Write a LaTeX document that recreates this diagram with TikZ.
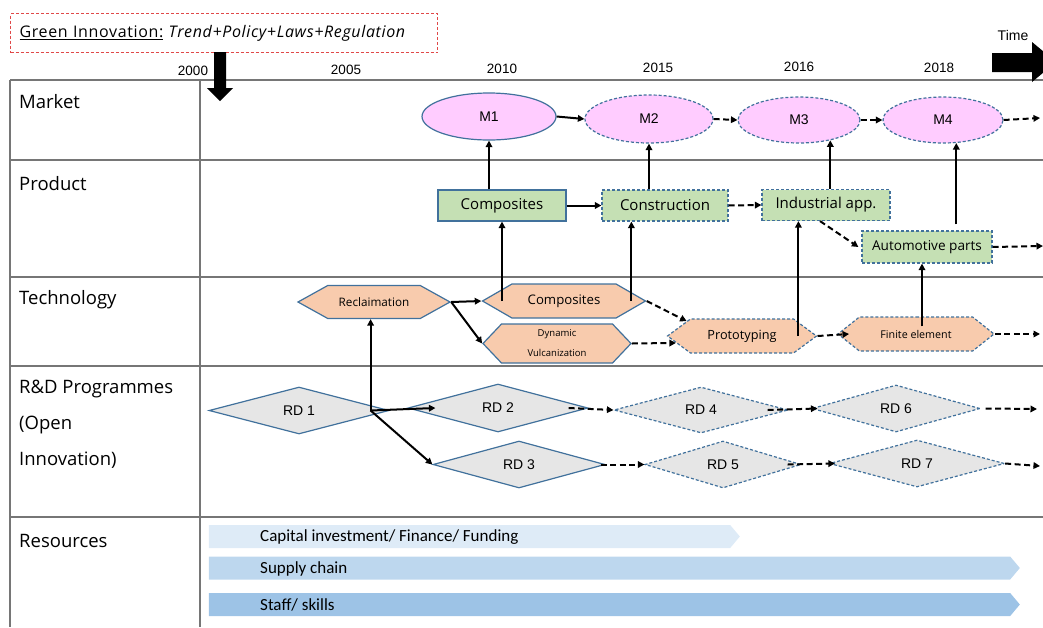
\documentclass[tikz,border=0pt]{standalone}
\usepackage{fontspec}
\setmainfont{Open Sans}
\newfontfamily\arialf{Liberation Sans}
\newfontfamily\calf{Carlito}
\newfontfamily\hdrfont{Open Sans}[LetterSpace=4]

\usetikzlibrary{shapes.geometric,shapes.symbols,arrows.meta,calc}

\definecolor{bordc}{HTML}{41719C}
\definecolor{pinkc}{HTML}{FFCCFF}
\definecolor{greenc}{HTML}{C5E0B4}
\definecolor{orangec}{HTML}{F8CBAD}
\definecolor{greyc}{HTML}{E6E6E6}
\definecolor{gridc}{HTML}{767676}
\definecolor{resa}{HTML}{DEEBF7}
\definecolor{resb}{HTML}{BDD7EE}
\definecolor{resc}{HTML}{9DC3E6}
\definecolor{hdrc}{HTML}{E04848}

\newcommand\fsz[1]{\fontsize{#1}{#1}\selectfont}

\tikzset{
  grid line/.style={draw=gridc, line width=1.5pt},
  rowlab/.style={anchor=base west, inner sep=0pt, font=\fsz{18.5}},
  year/.style={inner sep=0pt, font=\arialf\fsz{13.5}},
  dsh/.style={dash pattern=on 3pt off 2pt},
  mkt/.style={ellipse, draw=bordc, fill=pinkc, line width=1.2pt, inner sep=0pt, font=\arialf\fsz{14}},
  prod/.style={rectangle, draw=bordc, fill=greenc, line width=1.2pt, inner sep=0pt,
               minimum width=128pt, minimum height=31pt},
  hexa/.style={signal, signal to=east and west, draw=bordc, fill=orangec, line width=1.2pt, inner sep=0pt},
  rd/.style={diamond, aspect=3.8, draw=bordc, fill=greyc, line width=1.2pt, inner sep=0pt, font=\arialf\fsz{14}},
  res/.style={signal, signal to=east, inner sep=0pt, minimum height=23pt, signal pointer angle=100},
  restxt/.style={anchor=west, inner sep=0pt, font=\calf\fsz{17}},
  arr/.style={line width=2pt, -{Triangle[length=6.5pt,width=6.5pt]}},
  darr/.style={arr, dash pattern=on 6pt off 3.5pt},
}

\begin{document}
\begin{tikzpicture}[x=1pt, y=-1pt]
\useasboundingbox (0,0) rectangle (1043,627);
\clip (0,0) rectangle (1043,627);

% table frame
\draw[grid line] (10,80) -- (1043,80);
\draw[grid line] (10,80) -- (10,627);
\draw[grid line] (200,80) -- (200,627);
\foreach \yy in {160,277,366,517} \draw[grid line] (10,\yy) -- (1043,\yy);

% header box and time axis
\node[draw=hdrc, dsh, line width=1.2pt, anchor=north west, minimum width=427pt, minimum height=39pt,
      inner xsep=9pt, text width=409pt, align=left, font=\hdrfont\fsz{16}] (hdr) at (10,13)
      {\underline{Green Innovation:} \textit{Trend+Policy+Laws+Regulation}};
\fill (214,52) -- (226,52) -- (226,88) -- (233,88) -- (220,101) -- (207,88) -- (214,88) -- cycle;
\fill (992,53) -- (1032,53) -- (1032,42) -- (1056,62) -- (1032,82) -- (1032,72) -- (992,72) -- cycle;
\node[year, font=\arialf\fsz{14}] (ttime) at (1013,35) {Time};

\node[year] (y2000) at (193,71) {2000};
\node[year] (y2005) at (346,70) {2005};
\node[year] (y2010) at (502,69) {2010};
\node[year] (y2015) at (658,68) {2015};
\node[year] (y2016) at (799,67) {2016};
\node[year] (y2018) at (939,68) {2018};

% row labels
\node[rowlab] (lmarket) at (19,108) {Market};
\node[rowlab] (lproduct) at (19,190) {Product};
\node[rowlab] (ltech) at (19,304) {Technology};
\node[rowlab, anchor=north west, align=left, font=\fontsize{18.5}{36}\selectfont] (lrd) at (19,379.5)
      {R\&D Programmes\\(Open\\Innovation)};
\node[rowlab] (lres) at (19,547) {Resources};

% market
\node[mkt, minimum width=134pt, minimum height=47pt] (M1) at (489,116.5) {M1};
\node[mkt, dsh, minimum width=128pt, minimum height=48pt] (M2) at (649,119) {M2};
\node[mkt, dsh, minimum width=122pt, minimum height=46pt] (M3) at (799,120) {M3};
\node[mkt, dsh, minimum width=120pt, minimum height=46pt] (M4) at (943,120) {M4};

% products
\node[prod, font=\fsz{15}] (CompP) at (502,205.5) {Composites};
\node[prod, dsh, font=\fsz{15}, minimum width=126pt] (ConsP) at (665,205.5) {Construction};
\node[prod, dsh, font=\fsz{15}] (IndP) at (826,205) {Industrial app.};
\node[prod, dsh, font=\fsz{13.6}, minimum width=130pt, minimum height=32pt] (AutoP) at (927,247) {Automotive parts};

% technologies
\node[hexa, minimum width=152pt, minimum height=33pt, signal pointer angle=58, font=\fsz{11.7}] (Recl) at (374,302) {Reclaimation};
\node[hexa, minimum width=163pt, minimum height=34pt, signal pointer angle=60, font=\fsz{13.2}] (CompT) at (564,301) {Composites};
\node[hexa, minimum width=148pt, minimum height=39pt, signal pointer angle=93, align=center,
      font=\fontsize{9.5}{20}\selectfont] (DynV) at (557,343.5) {Dynamic\\Vulcanization};
\node[hexa, dsh, minimum width=149pt, minimum height=34pt, signal pointer angle=73, font=\fsz{12.7}] (Proto) at (742,336) {Prototyping};
\node[hexa, dsh, minimum width=156pt, minimum height=34pt, signal pointer angle=77, font=\fsz{10.7}] (Fin) at (916,334) {Finite element};

% R&D programmes
\node[rd, minimum width=180pt, minimum height=47pt] (RD1) at (299,410.5) {RD 1};
\node[rd, minimum width=180pt, minimum height=48pt] (RD2) at (498,408) {RD 2};
\node[rd, minimum width=172pt, minimum height=47pt] (RD3) at (519,464.5) {RD 3};
\node[rd, dsh, minimum width=174pt, minimum height=46pt] (RD4) at (701,410) {RD 4};
\node[rd, dsh, minimum width=168pt, minimum height=47pt] (RD6) at (896,408.5) {RD 6};
\node[rd, dsh, minimum width=156pt, minimum height=47pt] (RD5) at (723,464.5) {RD 5};
\node[rd, dsh, minimum width=175pt, minimum height=47pt] (RD7) at (917,463.5) {RD 7};

% resources
\node[res, fill=resa, minimum width=531pt] (rcap) at (469.5,536.5) {};
\node[res, fill=resb, minimum width=811pt] (rsup) at (609.5,568) {};
\node[res, fill=resc, minimum width=811pt] (rstaff) at (609.5,604.5) {};
\node[restxt] (tcap) at (260,537.5) {Capital investment/ Finance/ Funding};
\node[restxt] (tsup) at (260,568.5) {Supply chain};
\node[restxt] (tstaff) at (260,605) {Staff/ skills};

% helper points
\coordinate (J) at ($(RD1.east)+(-19,0)$);
\coordinate (vcons) at ($(ConsP.south west)+(30,0)$);
\coordinate (vind) at ($(IndP.south west)+(37,0)$);
\coordinate (vauto) at ($(AutoP.south)+(-5,0)$);
\coordinate (mout) at (1040,118);
\coordinate (pout) at (1043,246);
\coordinate (tout) at (1040,334);
\coordinate (rout1) at (1037,409);
\coordinate (rout2) at (1040,466);

% market links
\draw[arr] (M1.east) -- (M2.west);
\draw[darr] (M2.east) -- (M3.west);
\draw[darr] (M3.east) -- (M4.west);
\draw[darr] (M4.east) -- (mout);

% product links
\draw[arr] (CompP.north -| M1.south) -- (M1.south);
\draw[arr] (ConsP.north -| M2.south) -- (M2.south);
\draw[arr] (M3.-33 |- IndP.north) -- (M3.-33);
\draw[arr] ([yshift=6pt]M4.-60 |- AutoP.north) -- (M4.-60);
\draw[arr] (CompP.east) -- (ConsP.west);
\draw[darr] (ConsP.east) -- (IndP.west);
\draw[darr] ([xshift=-6pt]IndP.south) -- ([xshift=-3pt]AutoP.west);
\draw[darr] (AutoP.east) -- (pout);

% technology links
\draw[arr] (CompP.south |- CompT.center) -- (CompP.south);
\draw[arr] (vcons |- CompT.center) -- (vcons);
\draw[arr] (vind |- Proto.center) -- (vind);
\draw[arr] ([yshift=-10pt]vauto |- Fin.north) -- (vauto);
\draw[arr] (Recl.east) -- (CompT.west);
\draw[arr] (Recl.east) -- (DynV.west);
\draw[darr] (CompT.east) -- (Proto.165);
\draw[darr] (DynV.east) -- (Proto.186);
\draw[darr] (Proto.east) -- ([xshift=12pt]Fin.west);
\draw[darr] (Fin.east) -- (tout);

% R&D links
\draw[arr] (J) -- (J |- Recl.south);
\draw[arr] (J) -- ([xshift=28pt]RD2.west);
\draw[arr] (J) -- (RD3.west);
\draw[darr] ([xshift=-20pt]RD2.east) -- (RD4.west);
\draw[darr] ([xshift=-5pt]RD3.east) -- (RD5.west);
\draw[darr] ([xshift=-21pt]RD4.east) -- ([xshift=6pt]RD6.west);
\draw[darr] ([xshift=-14pt]RD5.east) -- ([xshift=6pt]RD7.west);
\draw[darr] ([xshift=5pt]RD6.east) -- (rout1);
\draw[darr] (RD7.east) -- (rout2);
\end{tikzpicture}
\end{document}
